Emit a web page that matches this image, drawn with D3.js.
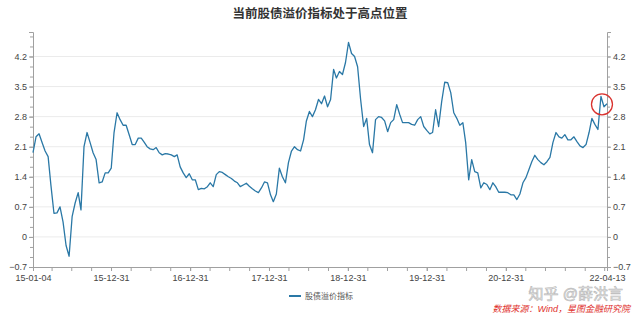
<!DOCTYPE html>
<html>
<head>
<meta charset="utf-8">
<script src="https://cdn.jsdelivr.net/npm/d3@7"></script>
<style>
  body { margin: 0; background: #fff; }
  text { font-family: "Noto Sans CJK SC", "Noto Sans", sans-serif; }
  .tick text, .foot { font-family: "Liberation Sans", "Noto Sans CJK SC", sans-serif; }
</style>
</head>
<body>
<div id="chart"></div>
<script>
// series: stock-bond premium indicator, sampled roughly every two weeks
let startDate = "2015-01-04";
let endDate = "2022-04-13";
let values = [
  1.96, 2.33, 2.4, 2.2, 2.0, 1.87, 1.2, 0.55, 0.56, 0.7, 0.35, -0.2, -0.45, 0.47, 0.79, 1.03,
  0.63, 2.1, 2.43, 2.2, 1.96, 1.8, 1.26, 1.28, 1.49, 1.49, 1.6, 2.43, 2.89, 2.73, 2.6, 2.6,
  2.38, 2.15, 2.15, 2.3, 2.3, 2.2, 2.1, 2.05, 2.03, 2.08, 1.96, 1.91, 1.94, 1.93, 1.91, 1.87,
  1.91, 1.63, 1.49, 1.38, 1.47, 1.33, 1.33, 1.1, 1.13, 1.12, 1.17, 1.26, 1.17, 1.45, 1.52, 1.5,
  1.45, 1.4, 1.36, 1.3, 1.26, 1.17, 1.21, 1.25, 1.18, 1.12, 1.07, 1.03, 1.14, 1.28, 1.26, 0.98,
  0.82, 1.0, 1.6, 1.4, 1.26, 1.73, 2.0, 2.1, 2.03, 2.0, 2.26, 2.7, 2.92, 2.8, 2.96, 3.2,
  3.1, 3.28, 3.03, 3.2, 3.9, 3.7, 3.85, 3.78, 4.06, 4.53, 4.27, 4.2, 3.96, 3.2, 2.57, 2.76,
  2.15, 1.96, 2.73, 2.8, 2.78, 2.7, 2.45, 2.66, 2.73, 3.08, 2.85, 2.66, 2.66, 2.66, 2.62, 2.6,
  2.73, 2.8, 2.57, 2.48, 2.4, 2.43, 2.96, 2.57, 3.15, 3.6, 3.59, 3.36, 2.89, 2.76, 2.6, 2.66,
  2.2, 1.33, 1.8, 1.52, 1.49, 1.14, 1.26, 1.22, 1.1, 1.26, 1.17, 1.04, 1.04, 1.04, 1.03, 0.98,
  0.98, 0.87, 1.0, 1.26, 1.38, 1.56, 1.75, 1.9, 1.8, 1.73, 1.68, 1.75, 1.85, 2.2, 2.43, 2.33,
  2.3, 2.38, 2.26, 2.26, 2.33, 2.22, 2.12, 2.08, 2.15, 2.43, 2.76, 2.62, 2.5, 3.27, 3.03, 3.1
];
let yTicks = [-0.7, 0, 0.7, 1.4, 2.1, 2.8, 3.5, 4.2];
let xTickDates = ["2015-01-04", "2015-12-31", "2016-12-31", "2017-12-31", "2018-12-31", "2019-12-31", "2020-12-31", "2022-04-13"];
let seriesName = "股债溢价指标";
let title = "当前股债溢价指标处于高点位置";

let parseDate = d3.timeParse("%Y-%m-%d");
let fmt = d3.timeFormat("%y-%m-%d");

let width = 640, height = 315;
let margin = {top: 32, right: 33, bottom: 48, left: 33};
let w = width - margin.left - margin.right;
let h = height - margin.top - margin.bottom;

let t0 = parseDate(startDate), t1 = parseDate(endDate);
let span = d3.timeDay.count(t0, t1);
let data = values.map((v, i) => ({
  date: d3.timeDay.offset(t0, Math.round(i * span / (values.length - 1))),
  value: v
}));

let svg = d3.select("#chart").append("svg")
  .attr("width", width)
  .attr("height", height);

let g = svg.append("g")
  .attr("transform", `translate(${margin.left},${margin.top})`);

let x = d3.scaleTime().domain([t0, t1]).range([0, w]);
let y = d3.scaleLinear().domain([-0.7, 4.77]).range([h, 0]);

// gridlines
g.append("g")
  .selectAll("line")
  .data(yTicks.slice(1))
  .join("line")
  .attr("x1", 0).attr("x2", w)
  .attr("y1", d => y(d)).attr("y2", d => y(d))
  .attr("stroke", "#ebebeb")
  .attr("stroke-width", 1);

// minor y ticks, three per major step
let minorY = d3.range(0, 24).map(i => -0.7 + i * 0.7 / 3).filter(d => d <= 4.77);

function styleAxis(sel) {
  sel.select(".domain").attr("stroke", "#a0a0a0");
  sel.selectAll(".tick line").attr("stroke", "#a0a0a0");
  sel.selectAll(".tick text").attr("fill", "#444").style("font-size", "9px");
}

g.append("g")
  .call(d3.axisLeft(y).tickValues(yTicks).tickSize(4).tickPadding(2).tickFormat(d => d3.format("~g")(d)))
  .call(styleAxis);
g.append("g")
  .call(d3.axisLeft(y).tickValues(minorY).tickSize(3).tickFormat(""))
  .call(sel => sel.select(".domain").remove())
  .call(sel => sel.selectAll(".tick line").attr("stroke", "#a0a0a0"));

g.append("g")
  .attr("transform", `translate(${w},0)`)
  .call(d3.axisRight(y).tickValues(yTicks).tickSize(4).tickPadding(2).tickFormat(d => d3.format("~g")(d)))
  .call(styleAxis);
g.append("g")
  .attr("transform", `translate(${w},0)`)
  .call(d3.axisRight(y).tickValues(minorY).tickSize(3).tickFormat(""))
  .call(sel => sel.select(".domain").remove())
  .call(sel => sel.selectAll(".tick line").attr("stroke", "#a0a0a0"));

// x axis with quarterly minor ticks
let xLabelDates = xTickDates.map(parseDate);
let quarters = d3.timeMonth.every(3).range(d3.timeDay.offset(t0, 1), t1).map(d => d3.timeDay.offset(d, -1));

g.append("g")
  .attr("transform", `translate(0,${h})`)
  .call(d3.axisBottom(x).tickValues(quarters).tickSize(4).tickFormat(""))
  .call(styleAxis);
g.append("g")
  .attr("transform", `translate(0,${h})`)
  .call(d3.axisBottom(x).tickValues(xLabelDates).tickSize(4).tickPadding(4).tickFormat(fmt))
  .call(styleAxis)
  .call(sel => sel.select(".domain").remove());

// series line
let line = d3.line()
  .x(d => x(d.date))
  .y(d => y(d.value));

g.append("path")
  .datum(data)
  .attr("fill", "none")
  .attr("stroke", "#2a78a6")
  .attr("stroke-width", 1.3)
  .attr("stroke-linejoin", "round")
  .attr("d", line);

// red circle around the latest readings
let last = data.slice(-3);
let cx = d3.mean(last, d => x(d.date)) - 2;
let cy = d3.mean(last, d => y(d.value)) + 2;
g.append("circle")
  .attr("cx", cx).attr("cy", cy).attr("r", 10.5)
  .attr("fill", "none")
  .attr("stroke", "#d9322e")
  .attr("stroke-width", 1.3);

// title
svg.append("text")
  .attr("x", width / 2).attr("y", 18)
  .attr("text-anchor", "middle")
  .style("font-size", "12.5px")
  .style("font-weight", "bold")
  .attr("fill", "#333")
  .text(title);

// legend
let lg = svg.append("g").attr("transform", "translate(289,296)");
lg.append("line").attr("x1", 0).attr("x2", 12).attr("stroke", "#2a78a6").attr("stroke-width", 2);
lg.append("text").attr("x", 16).attr("y", 3)
  .style("font-size", "8px").attr("fill", "#555").text(seriesName);

// watermark and source
svg.append("text")
  .attr("class", "foot")
  .attr("x", 623).attr("y", 299)
  .attr("text-anchor", "end")
  .style("font-size", "15px")
  .attr("fill", "#eeeeee")
  .attr("stroke", "#b8b8b8")
  .attr("stroke-width", 0.6)
  .text("知乎 @薛洪言");

svg.append("text")
  .attr("class", "foot")
  .attr("x", 630).attr("y", 312)
  .attr("text-anchor", "end")
  .style("font-size", "9px")
  .style("font-style", "italic")
  .attr("fill", "#e0302c")
  .text("数据来源：Wind，星图金融研究院");
</script>
</body>
</html>
